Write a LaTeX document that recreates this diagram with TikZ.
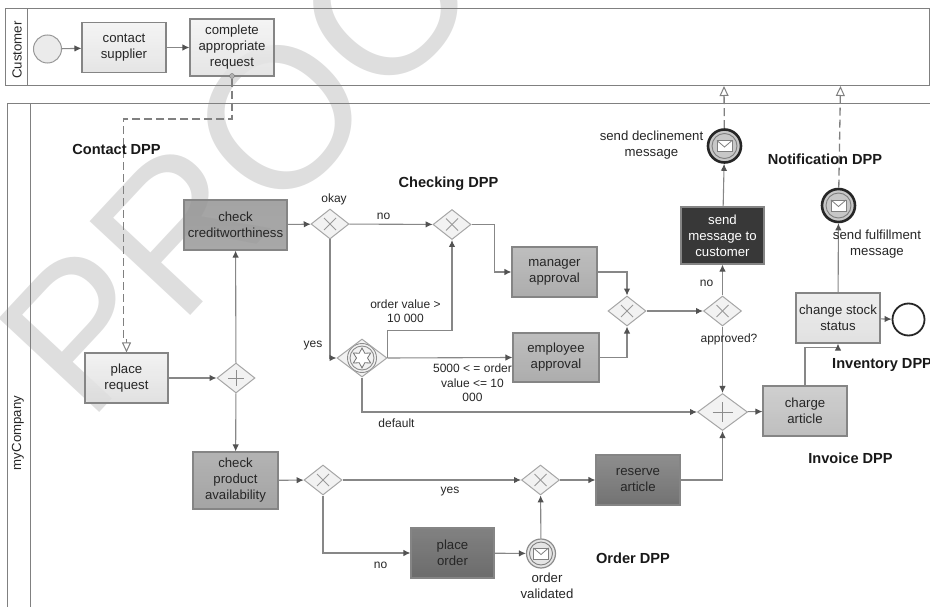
\documentclass[tikz,border=0pt]{standalone}
\usepackage{fontspec}
\setmainfont{Liberation Sans}
\usetikzlibrary{positioning, arrows.meta, shapes.geometric, calc}
\newcommand{\startcolor}{black!8}
\newcommand{\watermarkcolor}{black!13}
\newcommand{\linecolor}{black!47}

\begin{document}
\begin{tikzpicture}[
      x=1pt, y=-1pt,
      % GLOBAL CFG
      font=\fontsize{13.2}{16}\selectfont,
      >={Latex[length=7pt,width=6.5pt,black!68]},
      % Styles
      task/.style={% For tasks
        rectangle,
        draw=black!48,
        line width=1.1pt,
        align=center,
        inner sep=0pt,
        text=black!85,
        fill opacity=.85,
        text opacity=1
      },
      gate/.style={% For gateways
        diamond,
        aspect=1.27,
        draw=black!35,
        line width=1pt,
        fill=black!5,
        inner sep=0pt,
        minimum width=38pt,
        minimum height=30pt
      },
      xorgate/.style={
        gate,
        path picture={
          \draw [black!40, line width=.8pt] (path picture bounding box.center) ++(-6,-6) -- ++(12,12);
          \draw [black!40, line width=.8pt] (path picture bounding box.center) ++(6,-6) -- ++(-12,12);
        }
      },
      andgate/.style={
        gate,
        path picture={
          \draw [black!45, line width=.8pt] (path picture bounding box.center) ++(-#1,0) -- ++(2*#1,0);
          \draw [black!45, line width=.8pt] (path picture bounding box.center) ++(0,-#1) -- ++(0,2*#1);
        }
      },
      msgevent/.style={% Message events
        circle,
        draw=#1,
        inner sep=0pt,
        fill=black!22,
        minimum size=29pt
      },
      label/.style={
        align=center,
        inner sep=0pt,
        text=black!85
      },
      small/.style={
        label,
        font=\fontsize{12}{14.5}\selectfont
      },
      dpp/.style={
        inner sep=0pt,
        text=black!90,
        font=\fontsize{14.6}{16}\selectfont\bfseries
      },
      arrowflow/.style={% Arrows for sequence flow
        draw=\linecolor,
        line width=1.1pt,
        ->
      },
      arrowmsg/.style={% Arrows for message flow
        draw=black!50,
        line width=1.3pt,
        dash pattern=on 8pt off 4pt,
        -{Triangle[open,fill=white,length=10pt,width=9pt,black!50,line width=1pt]}
      },
      pool/.style={
        draw=black!50,
        line width=1pt
      }
      ]

      \useasboundingbox (0,0) rectangle (930,607);

      % Watermark first, everything else lies over it
      \begin{scope}
        \clip (0,0) rectangle (930,607);
        \node [rotate=47, anchor=base west, inner sep=0pt, text=\watermarkcolor,
          font=\fontsize{200}{200}\selectfont] (watermark) at (88,425) {PROO};
      \end{scope}

      % The two pools
      \draw [pool] (5,9) rectangle (929,85.5);
      \draw [pool] (27,9) -- (27,85.5);
      \draw [pool] (930,104) -- (7,104) -- (7,607);
      \draw [pool] (30,104) -- (30,607);
      \node [label, rotate=90] (customer) at (17,50) {Customer};
      \node [label, rotate=90] (mycompany) at (18,433) {myCompany};

      % Customer pool
      \node [circle, draw=black!40, line width=1pt, fill=\startcolor, minimum size=28pt, inner sep=0pt] (start) at (47.5,49) {};
      \node [task, top color=black!5, bottom color=black!12, minimum width=84pt, minimum height=50pt] (contact) at (124,47.5) {contact\\supplier};
      \node [task, top color=black!5, bottom color=black!12, minimum width=84pt, minimum height=57pt] (complete) at (232,47.5) {complete\\appropriate\\request};
      \node [circle, draw=black!55, fill=black!30, minimum size=5pt, inner sep=0pt] (boundary) at (232,76) {};
      \draw [arrowflow] (start) -- (contact);
      \draw [arrowflow] (contact) -- (complete);

      % Tasks of myCompany
      \node [task, top color=black!6, bottom color=black!14, minimum width=83pt, minimum height=50pt] (place) at (126.5,378) {place\\request};
      \node [task, top color=black!42, bottom color=black!40, minimum width=103pt, minimum height=50pt] (credit) at (235.5,225) {check\\creditworthiness};
      \node [task, top color=black!35, bottom color=black!42, minimum width=85pt, minimum height=57pt] (product) at (235.5,480.5) {check\\product\\availability};
      \node [task, top color=black!30, bottom color=black!38, minimum width=85pt, minimum height=50pt] (manager) at (554.5,272) {manager\\approval};
      \node [task, top color=black!30, bottom color=black!38, minimum width=86pt, minimum height=49pt] (employee) at (556,357.5) {employee\\approval};
      \node [task, top color=black!22, bottom color=black!30, minimum width=84pt, minimum height=50pt] (charge) at (805,411) {charge\\article};
      \node [task, top color=black!8, bottom color=black!14, minimum width=84pt, minimum height=50pt] (stock) at (838,318) {change stock\\status};
      \node [task, fill=black!78, fill opacity=1, text=white, minimum width=83pt, minimum height=57pt] (send) at (722.5,235.5) {send\\message to\\customer};
      \node [task, top color=black!52, bottom color=black!65, minimum width=84pt, minimum height=50pt] (reserve) at (638,480) {reserve\\article};
      \node [task, top color=black!58, bottom color=black!68, minimum width=83pt, minimum height=50pt] (order) at (452.5,553) {place\\order};

      % Gateways
      \node [xorgate] (okay) at (330,224) {};
      \node [xorgate] (nomerge) at (452,224.5) {};
      \node [xorgate] (appmerge) at (627,311) {};
      \node [xorgate] (approved) at (722.5,311) {};
      \node [xorgate] (avail) at (323,480) {};
      \node [xorgate] (ordermerge) at (540.5,480) {};
      \node [gate, andgate=8] (fork) at (236,378) {};
      \node [gate, andgate=10, minimum width=50pt, minimum height=37pt] (join) at (722.5,412) {};
      \node [gate, minimum width=50pt, minimum height=38pt,
        path picture={
          \draw [black!45, line width=.9pt] (path picture bounding box.center) circle (14.5pt);
          \draw [black!45, line width=.9pt] (path picture bounding box.center) circle (12pt);
          \draw [black!55, line width=.8pt, fill=white] ($(path picture bounding box.center)+(90:10)$)
            \foreach \ang in {150,210,...,450}{ -- ($(path picture bounding box.center)+(\ang-30:5.5)$) -- ($(path picture bounding box.center)+(\ang:10)$)} -- cycle;
        }] (complex) at (362,358) {};

      % Events
      \node [msgevent=black!85, line width=2.6pt, minimum size=33pt] (decline) at (724.5,146) {};
      \node [msgevent=black!85, line width=2.6pt, minimum size=33pt] (fulfill) at (838.5,205.5) {};
      \node [msgevent=black!45, fill=black!10, line width=1.2pt] (validated) at (541,553.5) {};
      \foreach \ev/\r in {decline/12.5pt, fulfill/12.5pt, validated/11.5pt}{
        \draw [black!50, line width=.9pt] (\ev) circle (\r);
        \draw [black!50, fill=white, line width=.8pt] ($(\ev)+(-7.5,-5.5)$) rectangle ($(\ev)+(7.5,5.5)$);
        \draw [black!50, line width=.8pt] ($(\ev)+(-7.5,-5.5)$) -- ($(\ev)+(0,1)$) -- ($(\ev)+(7.5,-5.5)$);
      }
      \node [circle, draw=black!85, line width=1.8pt, fill=white, minimum size=32pt, inner sep=0pt] (end) at (908.5,319.5) {};

      % Sequence flows
      \draw [arrowflow] (place) -- (fork);
      \draw [arrowflow] (fork) -- (credit);
      \draw [arrowflow] (fork) -- (product);
      \draw [arrowflow] (credit) -- (okay);
      \draw [arrowflow] (okay) -- (nomerge);
      \draw [arrowflow] (okay.south) |- (complex.west);
      \draw [arrowflow] (complex.east) -- ++(0,-27.5) -| (nomerge.south);
      \draw [arrowflow] (complex.east) -- (employee.west);
      \draw [arrowflow] (complex.south) |- (join.west);
      \draw [arrowflow] (nomerge.east) -- ++(23,0) |- (manager.west);
      \draw [arrowflow] (manager.east) -| (appmerge.north);
      \draw [arrowflow] (employee.east) -| (appmerge.south);
      \draw [arrowflow] (appmerge) -- (approved);
      \draw [arrowflow] (approved) -- (send);
      \draw [arrowflow] (approved) -- (join);
      \draw [arrowflow] (send) -- (decline);
      \draw [arrowflow] (product) -- (avail);
      \draw [arrowflow] (avail) -- (ordermerge);
      \draw [arrowflow] (avail.south) |- (order.west);
      \draw [arrowflow] (order) -- (validated);
      \draw [arrowflow] (validated) -- (ordermerge);
      \draw [arrowflow] (ordermerge) -- (reserve);
      \draw [arrowflow] (reserve.east) -| (join.south);
      \draw [arrowflow] (join) -- (charge);
      \draw [arrowflow] (charge.north) -- ++(0,-38) -| (stock.south);
      \draw [arrowflow] (stock) -- (end);
      \draw [arrowflow] (stock) -- (fulfill);

      % Message flows
      \coordinate (declinetip) at (724,86);
      \coordinate (fulfilltip) at (840.5,86);
      \draw [arrowmsg] (boundary) -- ++(0,43) -| ++(-108.5,221) -| (place.north);
      \draw [arrowmsg] (decline) -- (declinetip);
      \draw [arrowmsg] (fulfill) -- (fulfilltip);

      % Labels
      \node [small] (lokay) at (334,199) {okay};
      \node [small] (lno) at (383.5,216) {no};
      \node [small] (lyes) at (313,346) {yes};
      \node [small] (lvalue) at (405.5,311) {order value >\\10 000};
      \node [small] (lrange) at (472.5,383) {5000 < = order\\value <= 10\\000};
      \node [small] (ldefault) at (396.5,423) {default};
      \node [small] (lnotwo) at (706.5,283) {no};
      \node [small] (lapproved) at (729,339) {approved?};
      \node [small] (lyestwo) at (450,492) {yes};
      \node [small] (lnothree) at (380.5,565) {no};
      \node [label] (ldecline) at (651.5,145) {send declinement\\message};
      \node [label] (lfulfill) at (877,244.5) {send fulfillment\\message};
      \node [label] (lvalidated) at (547,586) {order\\validated};
      \node [dpp] (dppcontact) at (116.5,149) {Contact DPP};
      \node [dpp] (dppchecking) at (448.5,184) {Checking DPP};
      \node [dpp] (dppnotification) at (825,159) {Notification DPP};
      \node [dpp, anchor=west] (dppinventory) at (832,365) {Inventory DPP};
      \node [dpp] (dppinvoice) at (850.5,458) {Invoice DPP};
      \node [dpp] (dpporder) at (633,558) {Order DPP};

    \end{tikzpicture}
\end{document}
